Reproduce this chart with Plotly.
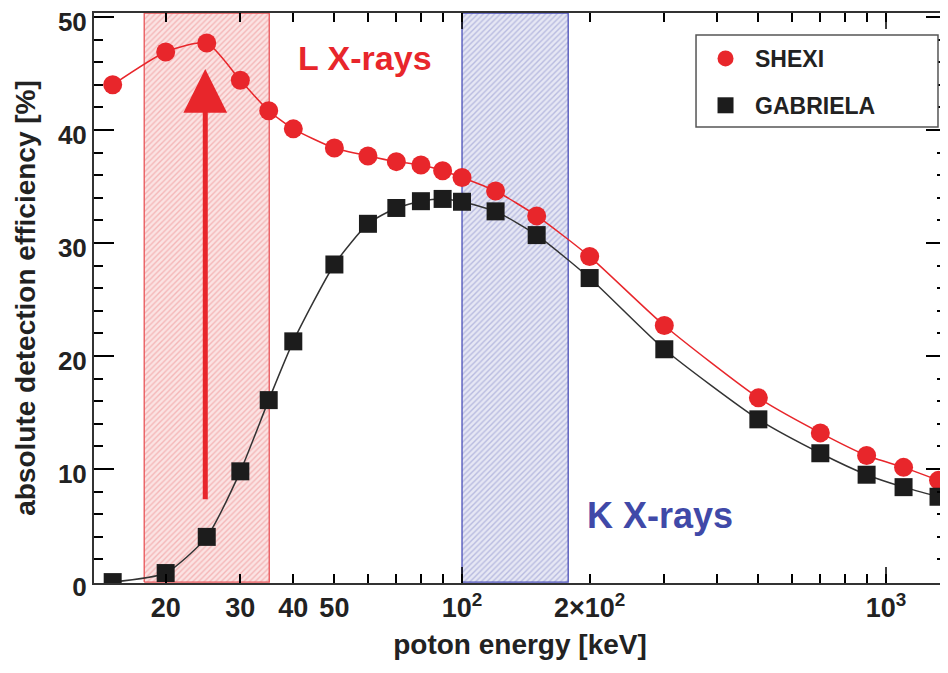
import numpy as np
import plotly.graph_objects as go

# photon energy [keV]
energy = [15, 20, 25, 30, 35, 40, 50, 60, 70, 80, 90, 100, 120, 150, 200,
          300, 500, 700, 900, 1100, 1330]
# absolute detection efficiency [%]
shexi = [44.0, 46.9, 47.7, 44.4, 41.7, 40.1, 38.4, 37.7, 37.2, 36.9, 36.4,
         35.8, 34.6, 32.4, 28.8, 22.7, 16.3, 13.2, 11.2, 10.15, 9.0]
gabriela = [0.0, 0.8, 4.0, 9.8, 16.1, 21.3, 28.1, 31.7, 33.1, 33.7, 33.9,
            33.65, 32.8, 30.7, 26.9, 20.6, 14.4, 11.4, 9.5, 8.4, 7.55]

l_xray_band = [17.8, 35.1]
k_xray_band = [100, 178]
arrow_x = 24.8
arrow_y = [7.2, 45.4]

x_tickvals = [20, 30, 40, 50, 100, 200, 1000]
x_ticktext = ["20", "30", "40", "50", "10<sup>2</sup>", "2\u00d710<sup>2</sup>", "10<sup>3</sup>"]
x_minor = [60, 70, 80, 90, 300, 400, 500, 600, 700, 800, 900]
x_long = [100, 1000]

RED = "#E8262B"
BLUE = "#4049A8"
DARK = "#1C1C1C"
FONT = "Liberation Sans"
Y_RANGE = [-0.08, 50.35]
X_RANGE = [1.132, 3.1415]


def band(x0, x1, edge, bg, fg):
    return go.Scatter(
        x=[x0, x1, x1, x0, x0], y=[0, 0, Y_RANGE[1], Y_RANGE[1], 0],
        mode="lines", fill="toself", showlegend=False, hoverinfo="skip",
        line=dict(color=edge, width=1.3),
        fillcolor=bg,
        fillpattern=dict(shape="/", bgcolor=bg, fgcolor=fg, size=4, solidity=0.35),
    )


fig = go.Figure()
fig.add_trace(band(*l_xray_band, "#E85458", "#FBE3E3", "#EE8A8C"))
fig.add_trace(band(*k_xray_band, "#4A4FB8", "#E6E7F4", "#8A8FCB"))

fig.add_trace(go.Scatter(x=energy, y=shexi, mode="lines", showlegend=False,
                         line=dict(color=RED, width=1.5, shape="spline", smoothing=0.6)))
fig.add_trace(go.Scatter(x=energy, y=gabriela, mode="lines", showlegend=False,
                         line=dict(color="#333333", width=1.5, shape="spline", smoothing=0.6)))
fig.add_trace(go.Scatter(x=energy, y=shexi, mode="markers", name="SHEXI",
                         legendgroup="a",
                         marker=dict(symbol="circle", size=19, color=RED)))
fig.add_trace(go.Scatter(x=energy, y=gabriela, mode="markers", name="GABRIELA",
                         legendgroup="b",
                         marker=dict(symbol="square", size=18, color=DARK)))

fig.add_annotation(x=np.log10(arrow_x), y=arrow_y[1], ax=np.log10(arrow_x), ay=arrow_y[0],
                   xref="x", yref="y", axref="x", ayref="y", text="",
                   showarrow=True, arrowhead=2, arrowwidth=5, arrowsize=1.75,
                   arrowcolor=RED)
fig.add_annotation(x=np.log10(59), y=46.4, xref="x", yref="y", text="L X-rays",
                   showarrow=False, font=dict(size=34, color=RED, family=FONT, weight="bold"))
fig.add_annotation(x=np.log10(293), y=5.9, xref="x", yref="y", text="K X-rays",
                   showarrow=False, font=dict(size=36, color=BLUE, family=FONT, weight="bold"))

# longer ticks at the decades (bottom and top)
for xv in x_long:
    for anchor, y0, y1 in [(0, 0, 16), (1, -16, 0)]:
        fig.add_shape(type="line", xref="x", yref="paper", ysizemode="pixel",
                      yanchor=anchor, x0=xv, x1=xv, y0=y0, y1=y1,
                      line=dict(color="black", width=1.5), layer="above")

# legend frame (plotly sizes its own box to the text, the original is wider)
fig.add_shape(type="rect", xref="paper", yref="paper",
              x0=0.7066, x1=0.9906, y0=0.80, y1=0.9614,
              line=dict(color="#555555", width=1.5), fillcolor="white", layer="above")

axis_font = dict(size=26, color="#222222", family=FONT, weight="bold")
# the page body has an 8px margin, so the figure is sized to fit the window
fig.update_layout(
    width=940, height=665,
    margin=dict(l=86, r=2, t=5, b=90, autoexpand=False),
    paper_bgcolor="white", plot_bgcolor="white",
    font=dict(family=FONT, color="#222222", weight="bold"),
    showlegend=True,
    legend=dict(x=0.7066, y=0.958, xanchor="left", yanchor="top",
                bgcolor="rgba(0,0,0,0)", borderwidth=0,
                font=dict(size=23, family=FONT, color="#222222", weight="bold"),
                traceorder="grouped", tracegroupgap=14, itemwidth=49),
    xaxis=dict(
        type="log", range=X_RANGE, automargin=False,
        tickmode="array", tickvals=x_tickvals, ticktext=x_ticktext,
        ticks="inside", ticklen=9, tickwidth=1.5, tickcolor="black",
        minor=dict(tickmode="array", tickvals=x_minor, ticks="inside",
                   ticklen=9, tickwidth=1.5, tickcolor="black"),
        showline=True, linecolor="#333333", linewidth=2, mirror="ticks",
        showgrid=False, zeroline=False, layer="above traces",
        tickfont=dict(axis_font, size=27),
        title=dict(text="poton energy [keV]", font=dict(size=28, family=FONT, weight="bold"),
                   standoff=12),
    ),
    yaxis=dict(
        range=Y_RANGE, tickmode="linear", tick0=0, dtick=10, automargin=False,
        ticks="inside", ticklen=20, tickwidth=1.5, tickcolor="black",
        minor=dict(dtick=2, ticks="inside", ticklen=9, tickwidth=1.5, tickcolor="black"),
        showline=True, linecolor="#333333", linewidth=2, mirror="ticks",
        showgrid=False, zeroline=False, layer="above traces",
        ticklabeloverflow="allow", ticklabelshift=5,
        tickfont=axis_font,
        title=dict(text="absolute detection efficiency [%]",
                   font=dict(size=28, family=FONT, weight="bold"), standoff=14),
    ),
)

fig.write_html("out.html")
